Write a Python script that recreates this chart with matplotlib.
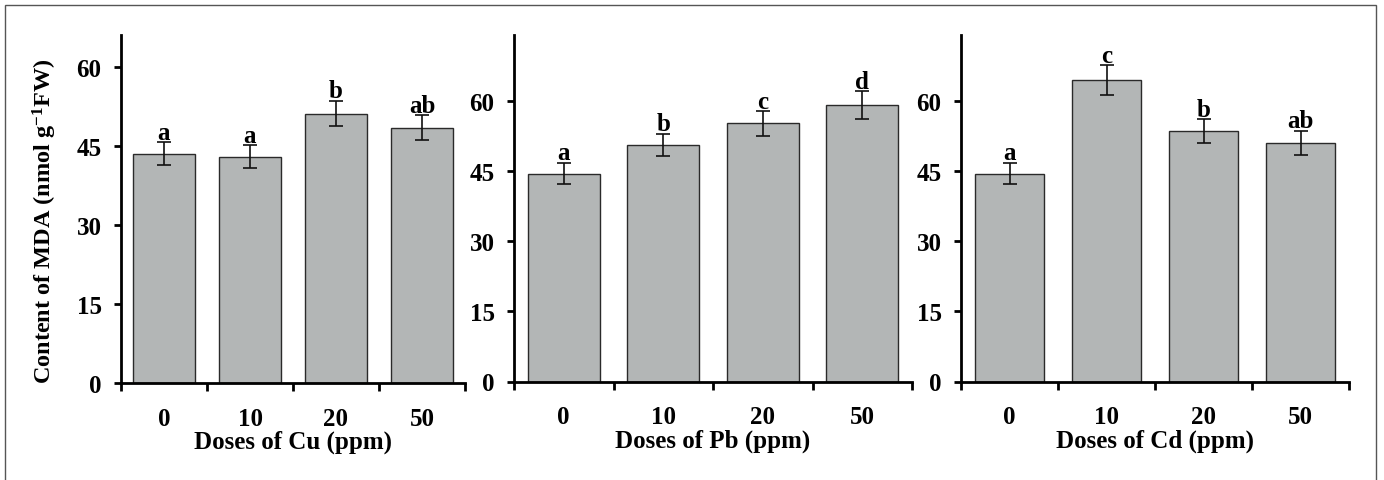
import matplotlib
matplotlib.use("Agg")
import matplotlib.pyplot as plt
from matplotlib.patches import Rectangle
import numpy as np

plt.rcParams['font.family'] = ['Liberation Serif', 'DejaVu Serif']
plt.rcParams['font.weight'] = 'bold'
plt.rcParams['mathtext.fontset'] = 'custom'
plt.rcParams['mathtext.rm'] = 'Liberation Serif:bold'
plt.rcParams['mathtext.bf'] = 'Liberation Serif:bold'
plt.rcParams['mathtext.it'] = 'Liberation Serif:bold'

doses = ["0", "10", "20", "50"]

cu_mean = [43.5, 42.9, 51.1, 48.4]
cu_err = [2.2, 2.2, 2.4, 2.4]
cu_letters = ["a", "a", "b", "ab"]

pb_mean = [44.4, 50.5, 55.1, 59.0]
pb_err = [2.3, 2.4, 2.6, 3.0]
pb_letters = ["a", "b", "c", "d"]

cd_mean = [44.4, 64.3, 53.5, 50.9]
cd_err = [2.3, 3.2, 2.5, 2.6]
cd_letters = ["a", "c", "b", "ab"]

y_ticks = [0, 15, 30, 45, 60]

panels = [
    ("Cu", cu_mean, cu_err, cu_letters, 66, [121, 384, 465, 36]),
    ("Pb", pb_mean, pb_err, pb_letters, 74, [514, 382.5, 912, 36]),
    ("Cd", cd_mean, cd_err, cd_letters, 74, [961, 382.5, 1349, 36]),
]

W, H = 1384, 481
fig = plt.figure(figsize=(W / 100, H / 100), dpi=100)

# thin frame around the whole figure (open at the bottom)
fig.patches.append(Rectangle((5 / W, -0.05), (1376 - 5) / W, 1.05 - 6 / H,
                             transform=fig.transFigure, fill=False,
                             edgecolor="#555555", linewidth=1.0))

bar_color = "#b3b6b6"
x = np.arange(len(doses))

for metal, mean, err, letters, ymax, (x0, y0, x1, y1) in panels:
    ax = fig.add_axes([x0 / W, 1 - y0 / H, (x1 - x0) / W, (y0 - y1) / H])
    ax.bar(x, mean, width=0.72, color=bar_color, edgecolor="#2a2a2a",
           linewidth=1.0, zorder=2)
    ax.errorbar(x, mean, yerr=err, fmt="none", ecolor="#111111",
                elinewidth=1.2, capsize=5, capthick=1.2, zorder=3)
    for xi, m, e, lab in zip(x, mean, err, letters):
        ax.text(xi, m + e - 0.3, lab, ha="center", va="bottom",
                fontsize=18, fontweight="bold")

    ax.set_xlim(-0.5, len(doses) - 0.5)
    ax.set_ylim(0, ymax)
    ax.set_yticks(y_ticks)
    ax.tick_params(axis="y", direction="out", length=5, width=2,
                   labelsize=18, pad=9)

    ax.set_xticks(np.arange(-0.5, len(doses), 1.0))
    ax.set_xticklabels([])
    ax.set_xticks(x, minor=True)
    ax.set_xticklabels(doses, minor=True)
    ax.tick_params(axis="x", which="major", direction="out", length=6, width=2)
    ax.tick_params(axis="x", which="minor", length=0, labelsize=18, pad=17)
    for t in ax.get_xticklabels(minor=True) + ax.get_yticklabels():
        t.set_fontweight("bold")

    for s in ("top", "right"):
        ax.spines[s].set_visible(False)
    for s in ("left", "bottom"):
        ax.spines[s].set_linewidth(2)
        ax.spines[s].set_color("black")

    ax.set_xlabel(f"Doses of {metal} (ppm)", fontsize=18, fontweight="bold",
                  labelpad=0)

fig.text(45 / W, 1 - 221 / H, r"Content of MDA (nmol g$^{-1}$FW)",
         rotation=90, ha="center", va="center", fontsize=17.5, fontweight="bold")

fig.savefig("out.png", dpi=100)
